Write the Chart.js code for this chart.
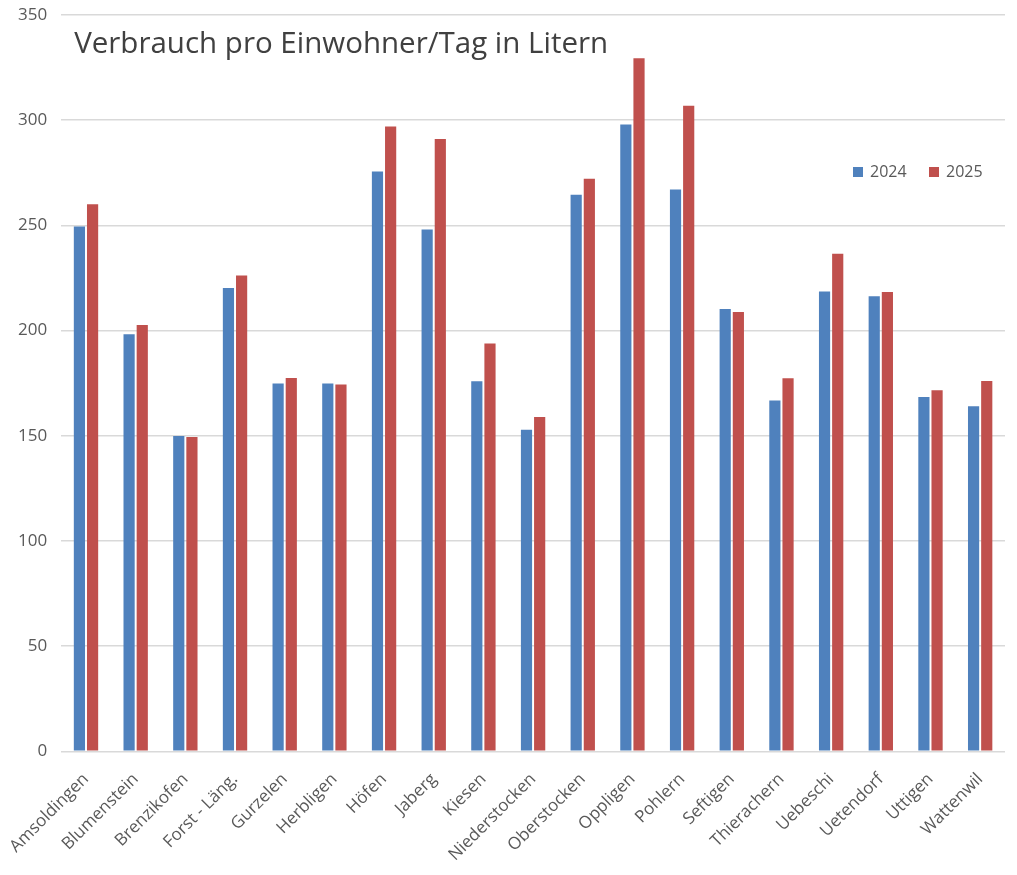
<!DOCTYPE html>
<html>
<head>
<meta charset="utf-8">
<script src="https://cdn.jsdelivr.net/npm/chart.js@4"></script>
<style>
  html, body { margin: 0; padding: 0; background: #fff; }
  #wrap { width: 1017px; height: 875px; }
</style>
</head>
<body>
<div id="wrap"><canvas id="chart" width="1017" height="875"></canvas></div>
<script>
// Gemeinden
const gemeinden = ['Amsoldingen', 'Blumenstein', 'Brenzikofen', 'Forst - Läng.', 'Gurzelen', 'Herbligen',
  'Höfen', 'Jaberg', 'Kiesen', 'Niederstocken', 'Oberstocken', 'Oppligen', 'Pohlern', 'Seftigen',
  'Thierachern', 'Uebeschi', 'Uetendorf', 'Uttigen', 'Wattenwil'];

// Liter pro Einwohner und Tag
const werte2024 = [249.5, 198.2, 149.9, 220.2, 174.8, 174.8, 275.6, 248, 175.9, 152.9, 264.6, 298, 267, 210.2, 166.8, 218.6, 216.3, 168.4, 164];
const werte2025 = [260, 202.6, 149.4, 226.2, 177.4, 174.3, 297, 291, 193.8, 158.9, 272.2, 329.4, 306.9, 208.8, 177.3, 236.5, 218.3, 171.6, 176];

const yTicks = [0, 50, 100, 150, 200, 250, 300, 350];

const titel = 'Verbrauch pro Einwohner/Tag in Litern';
const farben = { '2024': '#4f81bd', '2025': '#c0504d' };

// Titel und Legende liegen im Diagramm, wie in Excel
const overlay = {
  id: 'overlay',
  afterDraw(chart) {
    const ctx = chart.ctx;
    const area = chart.chartArea;
    ctx.save();
    ctx.fillStyle = '#404040';
    ctx.font = '29.5px "Open Sans"';
    ctx.textBaseline = 'alphabetic';
    ctx.fillText(titel, area.left + 13, 53);

    ctx.font = '16px "Open Sans"';
    ctx.textBaseline = 'middle';
    let x = 853;
    chart.data.datasets.forEach(ds => {
      ctx.fillStyle = ds.backgroundColor;
      ctx.fillRect(x, 167, 10, 10);
      ctx.fillStyle = '#595959';
      ctx.fillText(ds.label, x + 17, 172);
      x += 76;
    });
    ctx.restore();
  }
};

new Chart(document.getElementById('chart'), {
  type: 'bar',
  data: {
    labels: gemeinden,
    datasets: [
      { label: '2024', data: werte2024, backgroundColor: farben['2024'] },
      { label: '2025', data: werte2025, backgroundColor: farben['2025'] }
    ]
  },
  options: {
    responsive: false,
    animation: false,
    categoryPercentage: 0.53,
    barPercentage: 0.85,
    layout: { padding: { top: 15, right: 12, left: 4, bottom: 0 } },
    plugins: {
      legend: { display: false },
      title: { display: false },
      tooltip: { enabled: false }
    },
    scales: {
      x: {
        grid: { display: false },
        border: { display: false },
        ticks: {
          color: '#595959',
          font: { family: 'Open Sans', size: 17 },
          maxRotation: 45,
          minRotation: 45,
          autoSkip: false,
          padding: 10
        }
      },
      y: {
        min: 0,
        max: 350,
        afterBuildTicks(axis) {
          axis.ticks = yTicks.map(v => ({ value: v }));
        },
        afterFit(axis) {
          axis.paddingTop = 0;
        },
        grid: { color: '#d9d9d9', lineWidth: 1.5, drawTicks: false },
        border: { display: false },
        ticks: {
          color: '#595959',
          font: { family: 'Open Sans', size: 17 },
          padding: 14
        }
      }
    }
  },
  plugins: [overlay]
});
</script>
</body>
</html>
